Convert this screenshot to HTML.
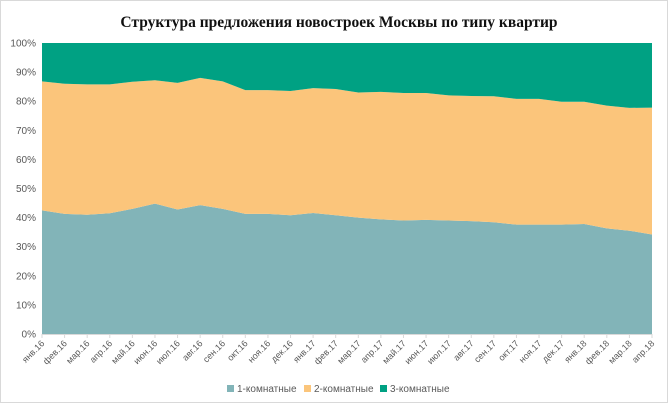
<!DOCTYPE html>
<html><head><meta charset="utf-8"><style>
body{margin:0;background:#fff}
#wrap{width:666px;height:401px;border:1px solid #d9d9d9;position:relative;overflow:hidden}
text{font-family:"Liberation Sans","DejaVu Sans",sans-serif}
</style></head><body>
<div id="wrap">
<svg id="chart" width="666" height="401">
<text x="338" y="26" text-anchor="middle" font-family="Liberation Serif" font-weight="bold" font-size="15.5" fill="#111" style="font-family:'Liberation Serif',serif">Структура предложения новостроек Москвы по типу квартир</text>
</svg>
</div>
<script>
const categories=["янв.16","фев.16","мар.16","апр.16","май.16","июн.16","июл.16","авг.16","сен.16","окт.16","ноя.16","дек.16","янв.17","фев.17","мар.17","апр.17","май.17","июн.17","июл.17","авг.17","сен.17","окт.17","ноя.17","дек.17","янв.18","фев.18","мар.18","апр.18"];
const s1=[42.5,41.3,41,41.5,43,44.8,42.8,44.3,43,41.3,41.3,40.8,41.6,40.8,40,39.4,39,39.2,39,38.8,38.4,37.6,37.6,37.6,37.8,36.3,35.5,34.2];
const s2=[44.3,44.7,44.8,44.3,43.7,42.4,43.5,43.7,43.8,42.5,42.5,42.7,42.9,43.4,43,43.8,43.8,43.6,43,43,43.3,43.2,43.2,42.2,42,42.2,42.2,43.6];
const s3=[13.2,14,14.2,14.2,13.3,12.8,13.7,12,13.2,16.2,16.2,16.5,15.5,15.8,17,16.8,17.2,17.2,18,18.2,18.3,19.2,19.2,20.2,20.2,21.5,22.3,22.2];
const yTicks=[0,10,20,30,40,50,60,70,80,90,100];
const seriesNames=["1-комнатные","2-комнатные","3-комнатные"];
const colors=["#82b4b8","#fbc57b","#00a183"];
const L=41,R=651,T=42,B=333;
const svg=document.getElementById('chart');const NS="http://www.w3.org/2000/svg";
function x(i){return L+(R-L)*i/(categories.length-1);}
function y(v){return B-(B-T)*v/100;}
function mk(t,a){const e=document.createElementNS(NS,t);for(const k in a)e.setAttribute(k,a[k]);svg.appendChild(e);return e;}
const series=[s1,s2,s3];let base=categories.map(()=>0);
series.forEach((s,si)=>{const top=base.map((b,i)=>b+s[i]);
let d="M"+categories.map((c,i)=>x(i)+","+y(top[i])).join(" L");
for(let i=categories.length-1;i>=0;i--)d+=" L"+x(i)+","+y(base[i]);d+="Z";
const p=mk('path',{d:d,fill:colors[si]});


base=top;});
yTicks.forEach(v=>{const t=mk('text',{x:35,y:y(v)+3.5,'text-anchor':'end','font-size':10,fill:'#595959'});t.textContent=v+'%';

});
mk('line',{x1:L,x2:R,y1:B+0.5,y2:B+0.5,stroke:'#d9d9d9'});
categories.forEach((c,i)=>{const tk=mk('line',{x1:x(i),x2:x(i),y1:B,y2:B+4,stroke:'#d9d9d9'});


const t=mk('text',{x:x(i)+3,y:B+10,'text-anchor':'end','font-size':9,fill:'#595959',transform:'rotate(-45 '+(x(i)+3)+' '+(B+10)+')'});t.textContent=c;

});
const lx=[226,303,379];
seriesNames.forEach((n,i)=>{const r=mk('rect',{x:lx[i],y:384,width:7,height:7,fill:colors[i]});


const t=mk('text',{x:lx[i]+10,y:391,'font-size':10,fill:'#595959'});t.textContent=n;

});
</script>
</body></html>
